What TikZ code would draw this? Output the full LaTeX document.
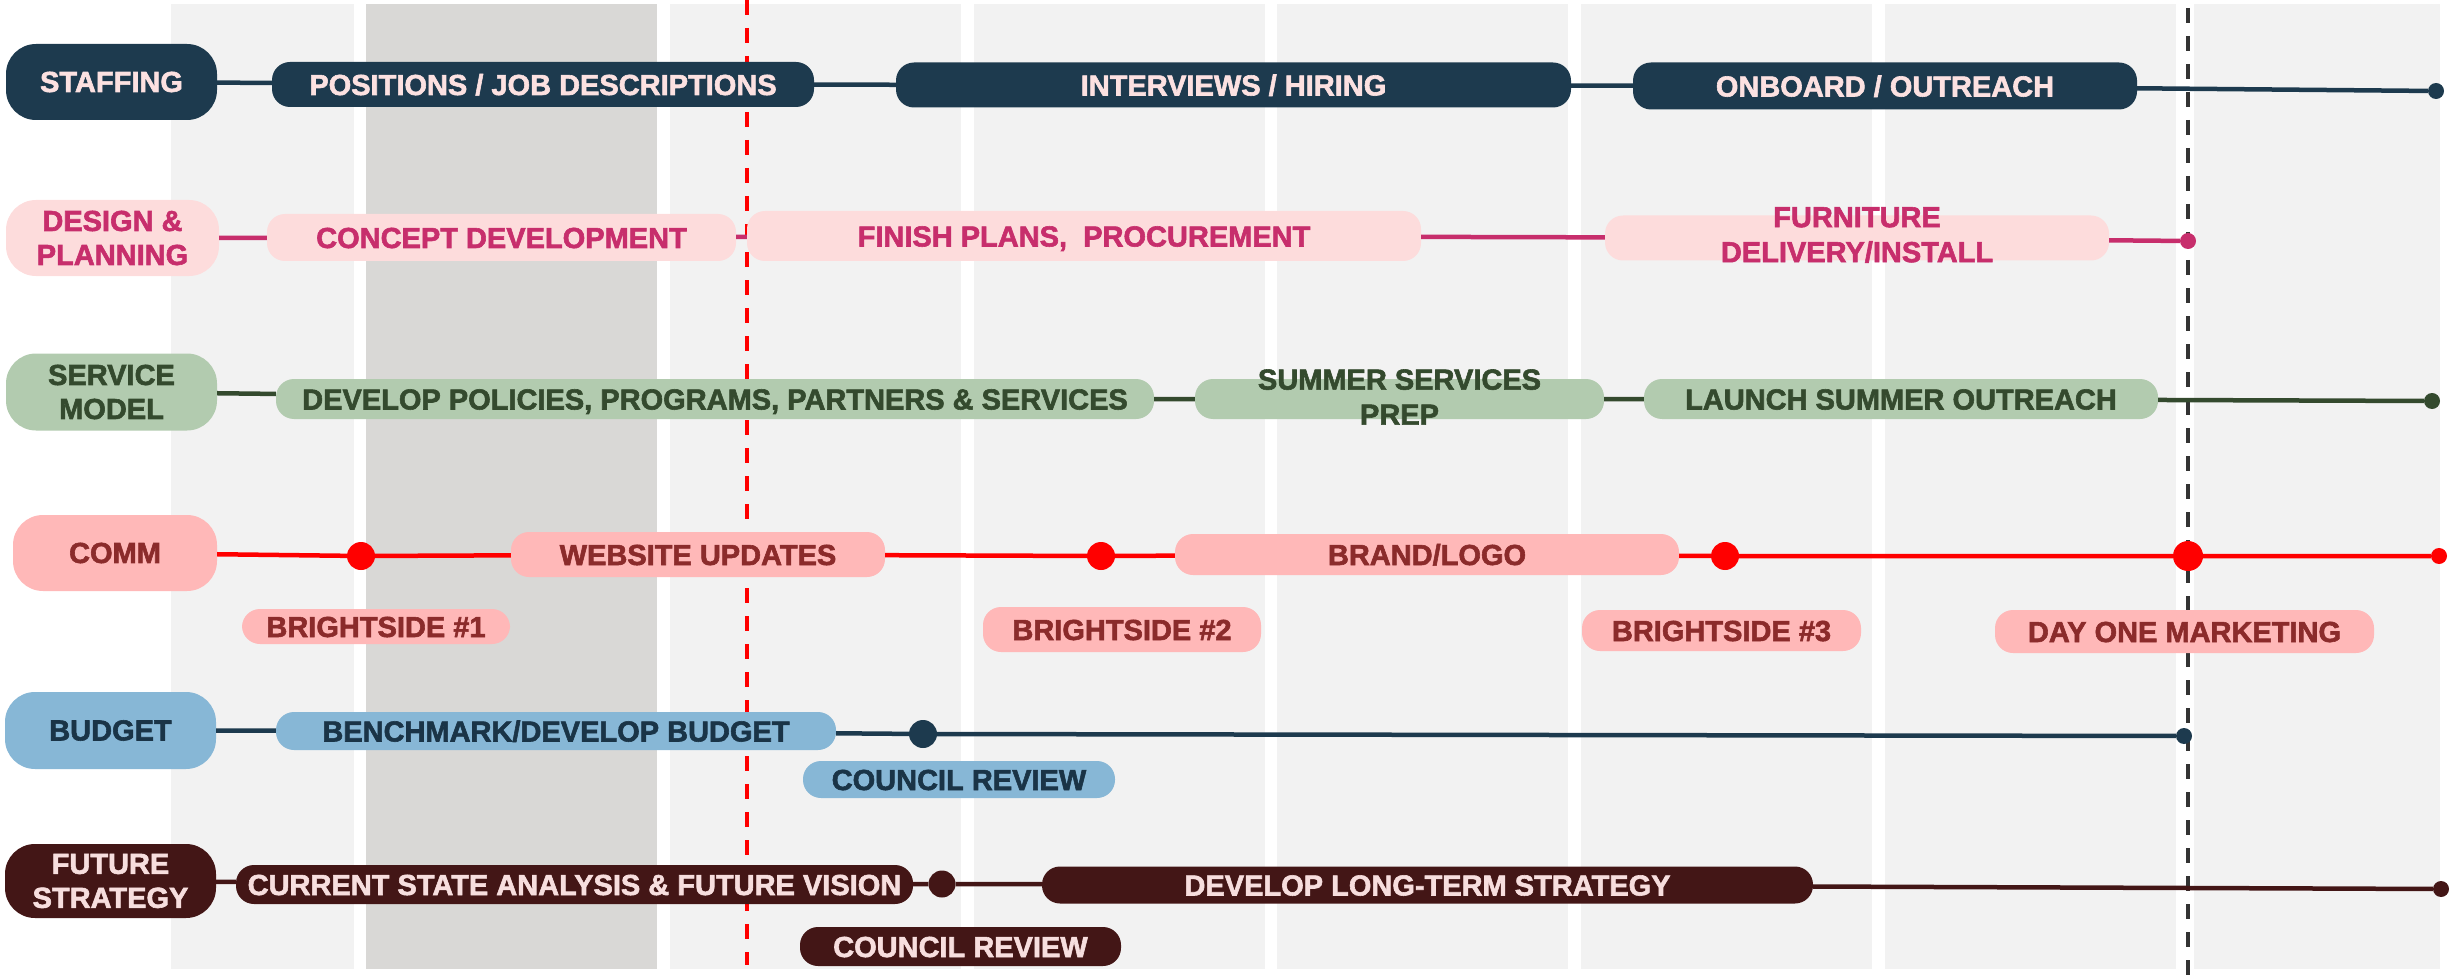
\documentclass[tikz,border=0pt]{standalone}
\usepackage{fontspec}
\setmainfont{Liberation Sans}[BoldFeatures={FakeBold=2}]
\usetikzlibrary{positioning}

\definecolor{staffnavy}{HTML}{1D3A4E}
\definecolor{paletext}{HTML}{FCE1E1}
\definecolor{designfill}{HTML}{FDDCDC}
\definecolor{designink}{HTML}{C72E6C}
\definecolor{servicefill}{HTML}{B2CBAF}
\definecolor{serviceink}{HTML}{344A2E}
\definecolor{commfill}{HTML}{FFB8B8}
\definecolor{commink}{HTML}{8B2B2B}
\definecolor{commred}{HTML}{FF0000}
\definecolor{budgetfill}{HTML}{87B7D6}
\definecolor{budgetink}{HTML}{1A3447}
\definecolor{futurefill}{HTML}{431616}
\definecolor{futuretext}{HTML}{F7DEDE}
\definecolor{colgray}{HTML}{F2F2F2}
\definecolor{colgraydark}{HTML}{D9D8D6}
\definecolor{dashgray}{HTML}{333333}

\begin{document}
\begin{tikzpicture}[x=1pt, y=-1pt,
  lbl/.style={rounded corners=30pt, inner sep=0pt, align=center,
    minimum width=211pt, minimum height=76pt,
    font=\bfseries\fontsize{29}{34}\selectfont},
  task/.style={rounded corners=18pt, inner sep=0pt,
    font=\bfseries\fontsize{29}{34}\selectfont, text height=21pt, text depth=0pt},
  twoline/.style={align=center, inner sep=0pt, font=\bfseries\fontsize{29}{35}\selectfont},
  dot/.style={circle, inner sep=0pt, minimum size=28pt},
  enddot/.style={circle, inner sep=0pt, minimum size=16pt},
  row/.style={line width=4.5pt},
  marker/.style={line width=4pt, dash pattern=on 15pt off 13pt}]
  \useasboundingbox (0,0) rectangle (2456,976);

  % month columns
  \foreach \xa/\xb in {171/354, 670/961, 974/1265, 1277/1568, 1581/1872, 1885/2176, 2194/2440}
    \fill[colgray] (\xa,4) rectangle (\xb,969);
  \fill[colgraydark] (366,4) rectangle (657,969);

  \coordinate (today_top) at (747,0);
  \coordinate (today_bot) at (747,965);
  \draw[marker, commred] (today_top) -- (today_bot);
  \coordinate (open_top) at (2188,8);
  \coordinate (open_bot) at (2188,976);
  \draw[marker, dashgray] (open_top) -- (open_bot);

  % staffing
  \node [lbl, fill=staffnavy, text=paletext] (staffing) at (111.5,82) {STAFFING};
  \node [task, fill=staffnavy, text=paletext, minimum width=542pt, minimum height=45pt] (positions) at (543,84.5) {POSITIONS / JOB DESCRIPTIONS};
  \node [task, fill=staffnavy, text=paletext, minimum width=675pt, minimum height=45pt] (interviews) at (1233.5,85) {INTERVIEWS / HIRING};
  \node [task, fill=staffnavy, text=paletext, minimum width=504pt, minimum height=47pt] (onboard) at (1885,86) {ONBOARD / OUTREACH};
  \node [enddot, fill=staffnavy] (staffing_end) at (2436,91) {};
  \draw [row, staffnavy] (staffing) -- (positions) (positions) -- (interviews)
    (interviews) -- (onboard) (onboard) -- (staffing_end);

  % design & planning
  \node [lbl, fill=designfill, text=designink, minimum width=213pt] (design) at (112.5,238) {DESIGN \&\\PLANNING};
  \node [task, fill=designfill, text=designink, minimum width=469pt, minimum height=47pt] (concept) at (501.5,237.5) {CONCEPT DEVELOPMENT};
  \node [task, fill=designfill, text=designink, minimum width=674pt, minimum height=50pt] (finish) at (1084,236) {FINISH PLANS,~ PROCUREMENT};
  \node [task, fill=designfill, minimum width=504pt, minimum height=45pt] (furniture) at (1857,238) {};
  \node [twoline, text=designink] (furniture_txt) at (1857,235) {FURNITURE\\DELIVERY/INSTALL};
  \node [enddot, fill=designink] (design_end) at (2188,241) {};
  \draw [row, designink] (design) -- (concept) (concept) -- (finish)
    (finish) -- (furniture) (furniture) -- (design_end);

  % service model
  \node [lbl, fill=servicefill, text=serviceink, minimum height=77pt] (service) at (111.5,392) {SERVICE\\MODEL};
  \node [task, fill=servicefill, text=serviceink, minimum width=878pt, minimum height=40pt] (policies) at (715,399) {DEVELOP POLICIES, PROGRAMS, PARTNERS \& SERVICES};
  \node [task, fill=servicefill, minimum width=409pt, minimum height=40pt] (summer) at (1399.5,399) {};
  \node [twoline, text=serviceink] (summer_txt) at (1399.5,397) {SUMMER SERVICES\\PREP};
  \node [task, fill=servicefill, text=serviceink, minimum width=514pt, minimum height=40pt] (launch) at (1901,399) {LAUNCH SUMMER OUTREACH};
  \node [enddot, fill=serviceink] (service_end) at (2432,401) {};
  \draw [row, serviceink] (service) -- (policies) (policies) -- (summer)
    (summer) -- (launch) (launch) -- (service_end);

  % comm
  \node [lbl, fill=commfill, text=commink, minimum width=204pt] (comm) at (115,553) {COMM};
  \node [dot, fill=commred] (comm_d1) at (361,556) {};
  \node [task, fill=commfill, text=commink, minimum width=374pt, minimum height=45pt] (website) at (698,554.5) {WEBSITE UPDATES};
  \node [dot, fill=commred] (comm_d2) at (1101,556) {};
  \node [task, fill=commfill, text=commink, minimum width=504pt, minimum height=41pt] (brand) at (1427,554.5) {BRAND/LOGO};
  \node [dot, fill=commred] (comm_d3) at (1725,556) {};
  \node [dot, fill=commred, minimum size=30pt] (comm_d4) at (2188,556) {};
  \node [enddot, fill=commred] (comm_end) at (2439,556) {};
  \draw [row, commred] (comm) -- (comm_d1) (comm_d1) -- (website) (website) -- (comm_d2)
    (comm_d2) -- (brand) (brand) -- (comm_d3) (comm_d3) -- (comm_d4) (comm_d4) -- (comm_end);
  \node [task, fill=commfill, text=commink, minimum width=268pt, minimum height=35pt] (bright1) at (376,626.5) {BRIGHTSIDE \#1};
  \node [task, fill=commfill, text=commink, minimum width=278pt, minimum height=45pt] (bright2) at (1122,629.5) {BRIGHTSIDE \#2};
  \node [task, fill=commfill, text=commink, minimum width=279pt, minimum height=41pt] (bright3) at (1721.5,630.5) {BRIGHTSIDE \#3};
  \node [task, fill=commfill, text=commink, minimum width=379pt, minimum height=43pt] (dayone) at (2184.5,631.5) {DAY ONE MARKETING};

  % budget
  \node [lbl, fill=budgetfill, text=budgetink, minimum height=77pt] (budget) at (110.5,730.5) {BUDGET};
  \node [task, fill=budgetfill, text=budgetink, minimum width=560pt, minimum height=38pt] (benchmark) at (556,731) {BENCHMARK/DEVELOP BUDGET};
  \node [dot, fill=staffnavy] (budget_d1) at (923,734) {};
  \node [enddot, fill=staffnavy] (budget_end) at (2184,736) {};
  \draw [row, staffnavy] (budget) -- (benchmark) (benchmark) -- (budget_d1) (budget_d1) -- (budget_end);
  \node [task, fill=budgetfill, text=budgetink, minimum width=312pt, minimum height=37pt] (budget_review) at (959,779.5) {COUNCIL REVIEW};

  % future strategy
  \node [lbl, fill=futurefill, text=futuretext, minimum height=74pt] (future) at (110.5,881) {FUTURE\\STRATEGY};
  \node [task, fill=futurefill, text=futuretext, minimum width=677pt, minimum height=39pt] (current) at (574.5,884.5) {CURRENT STATE ANALYSIS \& FUTURE VISION};
  \node [dot, fill=futurefill, minimum size=27pt] (future_d1) at (942,884) {};
  \node [task, fill=futurefill, text=futuretext, minimum width=771pt, minimum height=37pt] (longterm) at (1427.5,885) {DEVELOP LONG-TERM STRATEGY};
  \node [enddot, fill=futurefill] (future_end) at (2441,889) {};
  \draw [row, futurefill] (future) -- (current) (current) -- (future_d1)
    (future_d1) -- (longterm) (longterm) -- (future_end);
  \node [task, fill=futurefill, text=futuretext, minimum width=321pt, minimum height=39pt] (future_review) at (960.5,946.5) {COUNCIL REVIEW};
\end{tikzpicture}
\end{document}
